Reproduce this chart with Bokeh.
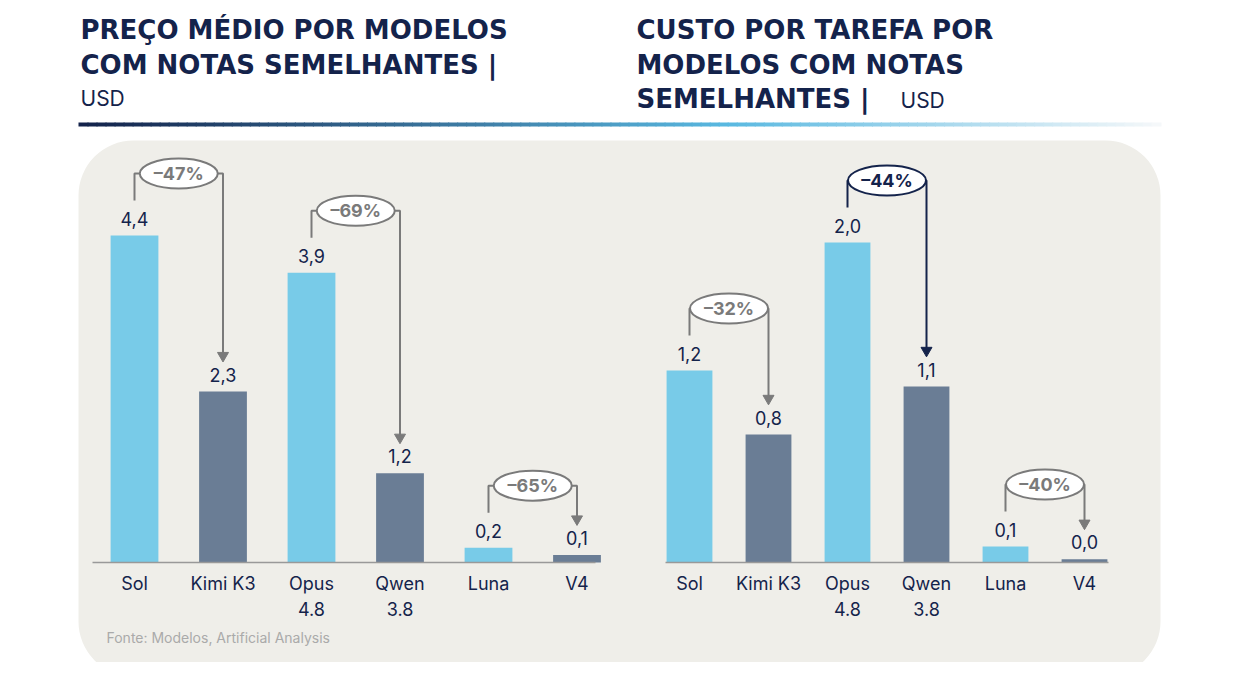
import numpy as np
from bokeh.plotting import figure
from bokeh.models import Range1d, BoxAnnotation
from bokeh.core.properties import value
from bokeh.embed import file_html
from bokeh.resources import INLINE

# data
left_models = ["Sol", "Kimi K3", "Opus\n4.8", "Qwen\n3.8", "Luna", "V4"]
left_values = [4.4, 2.3, 3.9, 1.2, 0.2, 0.1]
left_labels = ["4,4", "2,3", "3,9", "1,2", "0,2", "0,1"]
left_drops = ["–47%", "–69%", "–65%"]

right_models = ["Sol", "Kimi K3", "Opus\n4.8", "Qwen\n3.8", "Luna", "V4"]
right_values = [1.2, 0.8, 2.0, 1.1, 0.1, 0.02]
right_labels = ["1,2", "0,8", "2,0", "1,1", "0,1", "0,0"]
right_drops = ["–32%", "–44%", "–40%"]
right_drop_colors = ["#7a7a7a", "#14234b", "#7a7a7a"]

W, H = 1224, 662
LIGHT, DARK = "#78cbe8", "#6a7d95"
NAVY = "#14234b"
FONT = "Inter"
TFONT = "DejaVu Sans"

p = figure(width=W, height=H, output_backend="svg", toolbar_location=None,
           x_range=Range1d(0, W), y_range=Range1d(0, H), min_border=0)
p.axis.visible = False
p.grid.visible = False
p.outline_line_color = None
p.background_fill_color = "white"

def px(x):  # page pixel -> main data
    return x
def py(y):
    return H - y

# background panel
p.add_layout(BoxAnnotation(left=px(78), right=px(1160), bottom=py(676), top=py(140),
                           fill_color="#efeee9", fill_alpha=1, line_color=None,
                           border_radius=55, level="underlay"))

# gradient rule
n = 120
xs = np.linspace(px(78), px(1160), n + 1)
c0, c1, c2 = np.array([20, 35, 75]), np.array([90, 185, 225]), np.array([245, 248, 250])
cols = []
for t in np.linspace(0, 1, n):
    c = c0 + (c1 - c0) * (t / 0.6) if t < 0.6 else c1 + (c2 - c1) * ((t - 0.6) / 0.4)
    cols.append("#%02x%02x%02x" % tuple(int(v) for v in c))
p.quad(left=xs[:-1], right=xs[1:] + 1, bottom=py(126), top=py(122), fill_color=cols, line_color=None)

# titles
def t(x, y, s, size, bold=True, color=NAVY, align="left", font=TFONT):
    p.text(x=[px(x)], y=[py(y)], text=[s], text_font=value(font),
           text_font_size=f"{size}px", text_font_style="bold" if bold else "normal",
           text_color=color, text_baseline="middle", text_align=align)

t(80, 29, "PREÇO MÉDIO POR MODELOS", 26)
t(80, 64, "COM NOTAS SEMELHANTES |", 26)
t(80, 98, "USD", 21, bold=False, font=FONT)
t(636, 29, "CUSTO POR TAREFA POR", 26)
t(636, 64, "MODELOS COM NOTAS", 26)
t(636, 98, "SEMELHANTES |", 26)
t(900, 100, "USD", 21, bold=False, font=FONT)
t(106, 637, "Fonte: Modelos, Artificial Analysis", 14, bold=False, color="#aaaaaa", font=FONT)

# chart scales (index -> page x, value -> page y)
charts = [
    dict(name="l", cx0=134, dx=88.5, ppu=74.3, bw=0.54, models=left_models, vals=left_values,
         labels=left_labels, drops=left_drops, dcols=["#7a7a7a"] * 3, base=(92, 595)),
    dict(name="r", cx0=689, dx=79, ppu=160, bw=0.58, models=right_models, vals=right_values,
         labels=right_labels, drops=right_drops, dcols=right_drop_colors, base=(665, 1108)),
]
BASE_Y = 562
for c in charts:
    xr, yr = c["name"] + "x", c["name"] + "y"
    x0d = px(c["cx0"])
    p.extra_x_ranges[xr] = Range1d(-x0d / c["dx"], (W - x0d) / c["dx"])
    y0d = py(BASE_Y)
    p.extra_y_ranges[yr] = Range1d(-y0d / c["ppu"], (H - y0d) / c["ppu"])
    idx = list(range(len(c["vals"])))
    colors = [LIGHT if i % 2 == 0 else DARK for i in idx]
    p.vbar(x=idx, top=c["vals"], width=c["bw"], fill_color=colors, line_color=None,
           x_range_name=xr, y_range_name=yr)
    off = 10 / c["ppu"]
    p.text(x=idx, y=[v + off for v in c["vals"]], text=c["labels"], text_font=value(FONT),
           text_font_size="18px", text_color=NAVY, text_align="center", text_baseline="bottom",
           x_range_name=xr, y_range_name=yr)
    p.text(x=idx, y=[-10 / c["ppu"]] * len(idx), text=c["models"], text_font=value(FONT),
           text_font_size="18px", text_color=NAVY, text_align="center", text_baseline="top",
           text_line_height=1.25, x_range_name=xr, y_range_name=yr)
    p.segment(x0=[px(c["base"][0])], x1=[px(c["base"][1])], y0=[py(BASE_Y)], y1=[py(BASE_Y)],
              line_color="#999999", line_width=1.5)
    # brackets
    for k in range(3):
        a, b = 2 * k, 2 * k + 1
        va, vb = c["vals"][a], c["vals"][b]
        top = max(va, vb) + 62 / c["ppu"]
        ys = [va + 35 / c["ppu"], top, top, vb + 38 / c["ppu"]]
        col = c["dcols"][k]
        p.line(x=[a, a, b, b], y=ys, line_color=col, line_width=2,
               x_range_name=xr, y_range_name=yr)
        p.scatter(x=[b], y=[vb + 36 / c["ppu"]], marker="inverted_triangle", size=11,
                  fill_color=col, line_color=col, x_range_name=xr, y_range_name=yr)
        p.ellipse(x=[(a + b) / 2], y=[top], width=78, height=30, width_units="screen",
                  height_units="screen", fill_color="white", line_color=col, line_width=2,
                  x_range_name=xr, y_range_name=yr)
        p.text(x=[(a + b) / 2], y=[top], text=[c["drops"][k]], text_font=value(FONT),
               text_font_size="18px", text_font_style="bold", text_color=col,
               text_align="center", text_baseline="middle", x_range_name=xr, y_range_name=yr)

open("out.html", "w").write(file_html(p, INLINE))
